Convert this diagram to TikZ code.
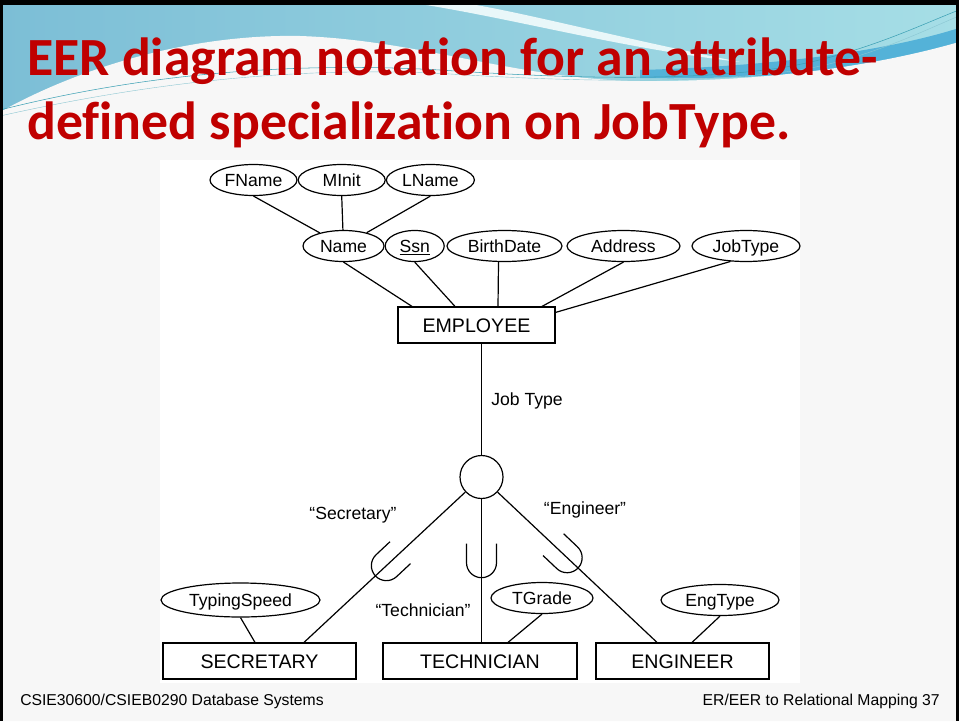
\documentclass[tikz,border=0pt]{standalone}
\usepackage{fontspec}
\setmainfont{Liberation Sans}
\newfontfamily\titlefont[Ligatures={NoCommon}]{Carlito}
\usetikzlibrary{shapes.geometric, positioning, calc}
\definecolor{titlered}{RGB}{192,0,0}
\definecolor{slidebg}{RGB}{247,247,247}
\definecolor{swooshleft}{RGB}{124,190,214}
\definecolor{swooshright}{RGB}{166,222,230}
\definecolor{swooshdark}{RGB}{84,178,216}
\definecolor{strand}{RGB}{60,160,180}
\newdimen\px \px=0.75pt
\tikzset{
  % EER diagram styles
  conn/.style={
    line width = 0.9pt
  },
  entity/.style={draw, conn, minimum height=36\px, inner sep=0pt,
    text height=10.5pt, text depth=0pt,
    font=\fontsize{14.7pt}{17pt}\selectfont},
  attr/.style={draw, conn, ellipse, minimum height=31\px, inner sep=0pt,
    text height=9.4pt, text depth=0pt,
    font=\fontsize{13.2pt}{15pt}\selectfont},
  spec/.style={draw, conn, circle, minimum size=43\px, inner sep=0pt},
  lbl/.style={inner sep=0pt, font=\fontsize{13.2pt}{15pt}\selectfont},
  slidetitle/.style={inner sep=0pt, anchor=base west, text=titlered,
    font=\titlefont\bfseries\fontsize{40.3pt}{48pt}\selectfont},
  footer/.style={inner sep=0pt, font=\fontsize{11.8pt}{14pt}\selectfont},
  subsetsym/.pic={
    \draw[conn] (-15,-19) -- (-15,0) arc[start angle=180, end angle=0, radius=15] -- (15,-19);
  },
}

\begin{document}
\begin{tikzpicture}[x=0.75pt, y=-0.75pt]
  \useasboundingbox (0,0) rectangle (959,721);

  % slide background and swoosh
  \fill[slidebg] (0,0) rectangle (959,721);
  \shade[left color=swooshleft, right color=swooshright] (0,0) rectangle (959,125);
  \fill[swooshdark] (640,70) .. controls (780,66) and (890,50) .. (959,28)
    -- (959,52) .. controls (880,70) and (760,80) .. (640,78) -- cycle;
  \fill[white!75!swooshright] (420,4) .. controls (520,20) and (620,48) .. (740,62)
    .. controls (620,38) and (530,14) .. (470,4) -- cycle;
  \fill[slidebg] (0,112) .. controls (90,62) and (200,34) .. (300,36)
    .. controls (420,40) and (520,80) .. (640,81)
    .. controls (780,82) and (890,62) .. (959,42) -- (959,721) -- (0,721) -- cycle;
  \draw[strand, line width=0.4pt] (0,110) .. controls (150,72) and (300,62) .. (440,70)
    .. controls (560,78) and (680,82) .. (780,68) .. controls (860,55) and (920,25) .. (959,10);
  \draw[strand!60, line width=0.3pt] (0,116) .. controls (160,80) and (310,66) .. (450,74)
    .. controls (580,82) and (700,84) .. (800,70) .. controls (870,58) and (925,30) .. (959,16);

  % title
  \node[slidetitle] (title1) at (27,75) {EER diagram notation for an attribute-};
  \node[slidetitle] (title2) at (27,139) {defined specialization on JobType.};

  % diagram area
  \fill[white] (160,160) rectangle (800,683);

  \node[attr, minimum width=87\px] (fname) at (253.5,180) {FName};
  \node[attr, minimum width=87\px, right=0pt of fname] (minit) {MInit};
  \node[attr, minimum width=88\px, right=0pt of minit] (lname) {LName};

  \node[attr, minimum width=81\px] (name) at (343.5,246) {Name};
  \node[attr, minimum width=59\px, right=0pt of name] (ssn) {\underline{Ssn}};
  \node[attr, minimum width=115\px] (bdate) at (504.5,246) {BirthDate};
  \node[attr, minimum width=113\px] (address) at (623.5,246) {Address};
  \node[attr, minimum width=108\px] (jobtype) at (746,246) {JobType};

  \node[entity, minimum width=157\px] (emp) at (476.5,325) {EMPLOYEE};
  \node[spec] (jt) at (481.5,477) {};
  \node[lbl, anchor=west] (jtlabel) at (491,401) {Job Type};

  \node[entity, minimum width=193\px] (sec) at (259.5,661) {SECRETARY};
  \node[entity, minimum width=194\px] (tech) at (480,661) {TECHNICIAN};
  \node[entity, minimum width=173\px] (eng) at (682.5,661) {ENGINEER};

  \node[attr, minimum width=159\px, minimum height=34\px] (tspeed) at (240.5,600) {TypingSpeed};
  \node[attr, minimum width=102\px] (tgrade) at (542,598) {TGrade};
  \node[attr, minimum width=118\px] (engtype) at (720,600) {EngType};

  \node[lbl] (seclabel) at (353,515) {“Secretary”};
  \node[lbl] (techlabel) at (423,610) {“Technician”};
  \node[lbl] (englabel) at (585,510) {“Engineer”};

  \draw[conn] (fname.south) -- (name);
  \draw[conn] (minit.south) -- (name);
  \draw[conn] (lname.south) -- (name);
  \draw[conn] (name.south) -- ([xshift=-64.5\px]emp.north);
  \draw[conn] (ssn.south) -- ([xshift=-21.5\px]emp.north);
  \draw[conn] ([xshift=-6\px]bdate.south) -- ([xshift=21.5\px]emp.north);
  \draw[conn] (address.south) -- ([xshift=65.5\px]emp.north);
  \draw[conn] (jobtype.225) -- ([yshift=-6\px]emp.north east);

  \draw[conn] (emp.south -| jt) -- (jt);
  \draw[conn] (jt) -- ([xshift=44.5\px]sec.north);
  \draw[conn] (jt) -- (tech.north -| jt);
  \draw[conn] (jt) -- ([xshift=-25.5\px]eng.north);

  \pic[rotate=-46.9] at ($(jt)!0.536!([xshift=44.5\px]sec.north)$) {subsetsym};
  \pic at ($(jt)!0.518!(tech.north -| jt)$) {subsetsym};
  \pic[rotate=46.6] at ($(jt)!0.488!([xshift=-25.5\px]eng.north)$) {subsetsym};

  \draw[conn] (tspeed.south) -- ([xshift=-4.5\px]sec.north);
  \draw[conn] (tgrade.south) -- ([xshift=28\px]tech.north);
  \draw[conn] (engtype.south) -- ([xshift=9.5\px]eng.north);

  % footer
  \node[footer, anchor=base west] (course) at (20,705) {CSIE30600/CSIEB0290 Database Systems};
  \node[footer, anchor=base east] (pageno) at (940,705) {ER/EER to Relational Mapping 37};

  % frame
  \fill[black] (0,0) rectangle (959,5);
  \fill[black] (0,0) rectangle (3,721);
  \fill[black] (956,0) rectangle (959,721);
\end{tikzpicture}
\end{document}
